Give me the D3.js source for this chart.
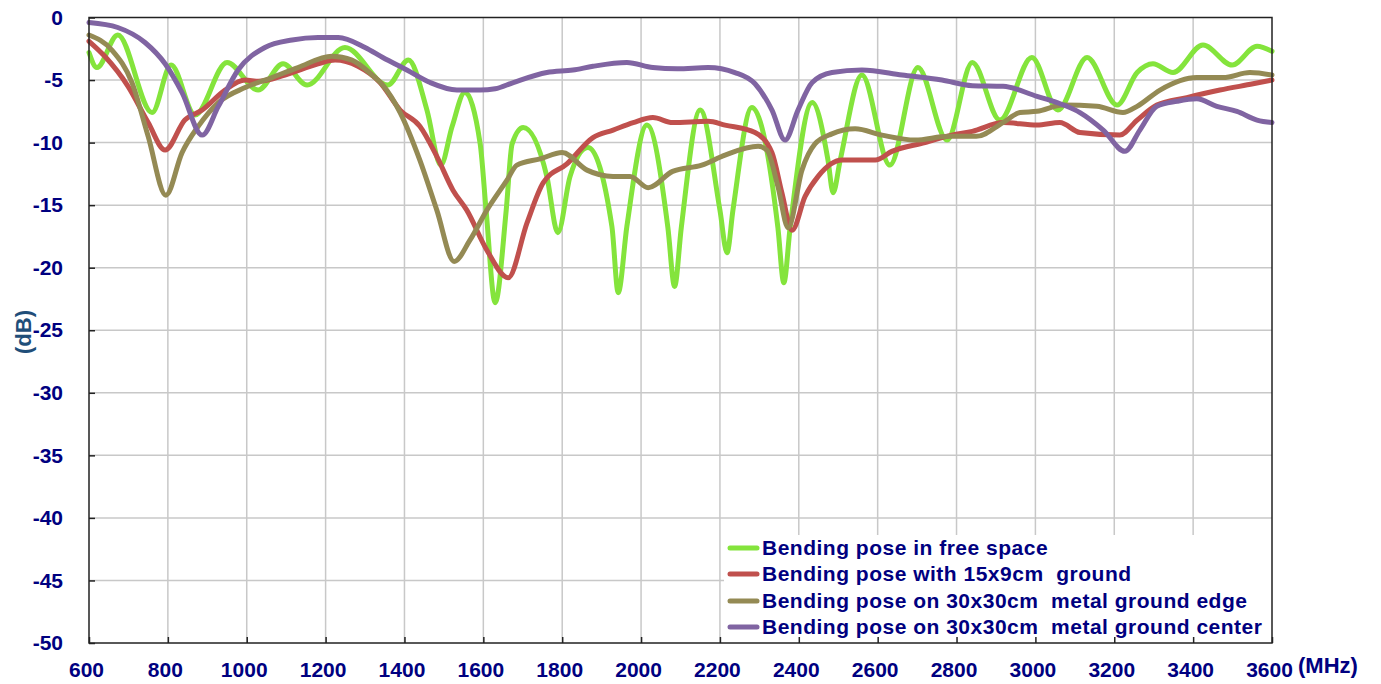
<!DOCTYPE html>
<html><head><meta charset="utf-8">
<script src="https://cdn.jsdelivr.net/npm/d3@7"></script>
<style>body{margin:0;background:#fff} svg{display:block}</style>
</head><body><svg id="c" width="1381" height="684"></svg>
<script>
const xTicks=[600,800,1000,1200,1400,1600,1800,2000,2200,2400,2600,2800,3000,3200,3400,3600];
const yTicks=[0,-5,-10,-15,-20,-25,-30,-35,-40,-45,-50];
const seriesNames=["Bending pose in free space","Bending pose with 15x9cm  ground","Bending pose on 30x30cm  metal ground edge","Bending pose on 30x30cm  metal ground center"];
const seriesColors=["#84e43c","#c0504d","#948a54","#8064a2"];

const freeSpace=[[600,-2.8],[620,-4.0],[673,-1.4],[760,-7.6],[808,-3.8],[869,-7.8],[950,-3.6],[1029,-5.8],[1092,-3.7],[1153,-5.4],[1249,-2.4],[1358,-5.4],[1410,-3.4],[1457,-7.4],[1492,-11.8],[1521,-8.7],[1553,-6.0],[1592,-10.1],[1607,-15.4],[1630,-22.8],[1658,-15.4],[1673,-10.1],[1701,-8.8],[1761,-12.7],[1789,-17.2],[1820,-12.7],[1865,-10.4],[1926,-16.7],[1942,-22.0],[1964,-16.7],[2015,-8.6],[2068,-16.8],[2085,-21.5],[2102,-16.8],[2150,-7.4],[2200,-15.4],[2218,-18.8],[2233,-15.4],[2281,-7.2],[2347,-16.8],[2362,-21.2],[2378,-16.8],[2434,-6.8],[2474,-11.4],[2487,-14.0],[2505,-11.4],[2560,-4.6],[2631,-11.8],[2702,-4.0],[2776,-9.8],[2840,-3.6],[2910,-8.2],[2991,-3.2],[3057,-7.4],[3131,-3.2],[3207,-7.0],[3258,-4.4],[3298,-3.7],[3349,-4.4],[3425,-2.2],[3499,-3.8],[3562,-2.3],[3600,-2.7]];

const ground15x9=[[600,-1.9],[640,-3.1],[699,-5.5],[750,-8.4],[793,-10.6],[843,-8.2],[887,-7.4],[945,-5.8],[996,-5.0],[1029,-5.1],[1097,-4.6],[1181,-3.7],[1224,-3.4],[1282,-3.9],[1338,-5.2],[1389,-7.4],[1439,-8.7],[1482,-11.1],[1523,-13.8],[1558,-15.4],[1609,-18.6],[1663,-20.8],[1711,-16.4],[1752,-13.2],[1812,-11.7],[1878,-9.6],[1929,-9.0],[1980,-8.4],[2030,-8.0],[2080,-8.4],[2170,-8.3],[2213,-8.6],[2289,-9.2],[2332,-10.8],[2357,-14.0],[2383,-17.0],[2416,-14.3],[2449,-12.7],[2510,-11.4],[2594,-11.4],[2636,-10.7],[2720,-10.0],[2788,-9.4],[2840,-9.1],[2918,-8.4],[3004,-8.6],[3062,-8.4],[3113,-9.2],[3214,-9.4],[3258,-8.2],[3308,-7.0],[3384,-6.4],[3468,-5.8],[3552,-5.3],[3600,-5.0]];

const metalEdge=[[600,-1.4],[658,-2.6],[709,-5.2],[750,-9.5],[795,-14.2],[836,-10.8],[877,-8.7],[928,-6.8],[996,-5.6],[1064,-4.8],[1130,-4.0],[1216,-3.1],[1267,-3.4],[1318,-4.6],[1345,-5.4],[1389,-7.6],[1439,-11.4],[1482,-15.4],[1526,-19.5],[1566,-17.8],[1609,-15.4],[1660,-13.0],[1685,-11.8],[1744,-11.3],[1800,-10.8],[1863,-12.2],[1929,-12.7],[1972,-12.7],[2018,-13.6],[2080,-12.3],[2154,-11.8],[2213,-11.0],[2297,-10.3],[2319,-10.6],[2347,-13.5],[2373,-16.8],[2408,-12.2],[2441,-10.1],[2484,-9.3],[2543,-8.9],[2611,-9.4],[2695,-9.8],[2779,-9.5],[2850,-9.5],[2918,-8.4],[2961,-7.6],[3004,-7.5],[3070,-7.0],[3156,-7.1],[3222,-7.6],[3258,-7.1],[3316,-5.8],[3409,-4.8],[3476,-4.8],[3544,-4.4],[3600,-4.6]];

const metalCenter=[[600,-0.4],[673,-0.8],[742,-2.0],[793,-3.7],[836,-6.0],[887,-9.4],[928,-7.1],[978,-4.2],[1046,-2.4],[1115,-1.8],[1181,-1.6],[1232,-1.6],[1300,-2.4],[1345,-3.2],[1406,-4.2],[1465,-5.2],[1533,-5.8],[1592,-5.8],[1630,-5.7],[1676,-5.2],[1761,-4.4],[1827,-4.2],[1878,-3.9],[1964,-3.6],[2030,-4.0],[2092,-4.1],[2170,-4.0],[2238,-4.4],[2289,-5.3],[2332,-7.4],[2365,-9.8],[2398,-7.4],[2434,-5.2],[2484,-4.4],[2560,-4.2],[2662,-4.6],[2763,-5.0],[2840,-5.45],[2918,-5.5],[3004,-6.3],[3055,-6.8],[3113,-7.6],[3172,-9.0],[3227,-10.7],[3265,-9.0],[3308,-7.1],[3359,-6.7],[3409,-6.5],[3460,-7.1],[3511,-7.5],[3562,-8.2],[3600,-8.4]];

const allSeries=[freeSpace,ground15x9,metalEdge,metalCenter];

const svg=d3.select("#c");
const L=89,R=1272,T=17.5,B=643;
const x=d3.scaleLinear().domain([600,3600]).range([L,R]);
const y=d3.scaleLinear().domain([0,-50]).range([T,B]);
const navy="#000080";
const font="'Liberation Sans', Arial, sans-serif";

// grid
const g=svg.append("g");
g.selectAll(".vg").data(xTicks.slice(1,-1)).join("line")
  .attr("x1",d=>x(d)).attr("x2",d=>x(d)).attr("y1",T).attr("y2",B)
  .attr("stroke","#c8c8c8").attr("stroke-width",1.5);
g.selectAll(".hg").data(yTicks.slice(1,-1)).join("line")
  .attr("y1",d=>y(d)).attr("y2",d=>y(d)).attr("x1",L).attr("x2",R)
  .attr("stroke","#c8c8c8").attr("stroke-width",1.5);

// lines
const line=d3.line().x(d=>x(d[0])).y(d=>y(d[1])).curve(d3.curveMonotoneX);
allSeries.forEach((s,i)=>{
  svg.append("path").datum(s).attr("d",line).attr("fill","none")
    .attr("stroke",seriesColors[i]).attr("stroke-width",5)
    .attr("stroke-linejoin","round").attr("stroke-linecap","round");
});

// legend
const lg=svg.append("g");
lg.append("rect").attr("x",724).attr("y",535).attr("width",R-724).attr("height",B-535).attr("fill","#fff");
const rows=[548,574,601,627];
seriesNames.forEach((n,i)=>{
  lg.append("line").attr("x1",730).attr("x2",757).attr("y1",rows[i]).attr("y2",rows[i])
    .attr("stroke",seriesColors[i]).attr("stroke-width",5).attr("stroke-linecap","round");
  lg.append("text").attr("x",762).attr("y",rows[i]).attr("dy","0.35em")
    .attr("font-family",font).attr("font-weight","bold").attr("font-size",21)
    .attr("letter-spacing","0.5px")
    .attr("fill",navy).attr("xml:space","preserve").style("white-space","pre").text(n);
});

// axes
const ax=svg.append("g").attr("transform",`translate(${L},0)`)
  .call(d3.axisLeft(y).tickValues(yTicks).tickSize(-6).tickPadding(26).tickFormat(d=>String(d)));
const bx=svg.append("g").attr("transform",`translate(0,${B})`)
  .call(d3.axisBottom(x).tickValues(xTicks).tickSize(-6).tickPadding(19).tickFormat(d=>String(d)));
[ax,bx].forEach(a=>{
  a.select(".domain").remove();
  a.selectAll(".tick line").attr("stroke","#222").attr("stroke-width",1.5);
  a.selectAll("text").attr("font-family",font).attr("font-weight","bold").attr("font-size",21).attr("fill",navy);
});
bx.selectAll("text").attr("dx",-3);

// border
svg.append("rect").attr("x",L).attr("y",T).attr("width",R-L).attr("height",B-T)
  .attr("fill","none").attr("stroke","#222").attr("stroke-width",1.5);

// axis titles
svg.append("text").attr("x",1298).attr("y",673).attr("font-family",font).attr("font-weight","bold")
  .attr("font-size",22).attr("fill",navy).text("(MHz)");
svg.append("text").attr("transform","translate(23,332) rotate(-90)").attr("text-anchor","middle").attr("dy","0.35em")
  .attr("font-family",font).attr("font-weight","bold").attr("font-size",22).attr("fill","#1f4e79").text("(dB)");
</script></body></html>
